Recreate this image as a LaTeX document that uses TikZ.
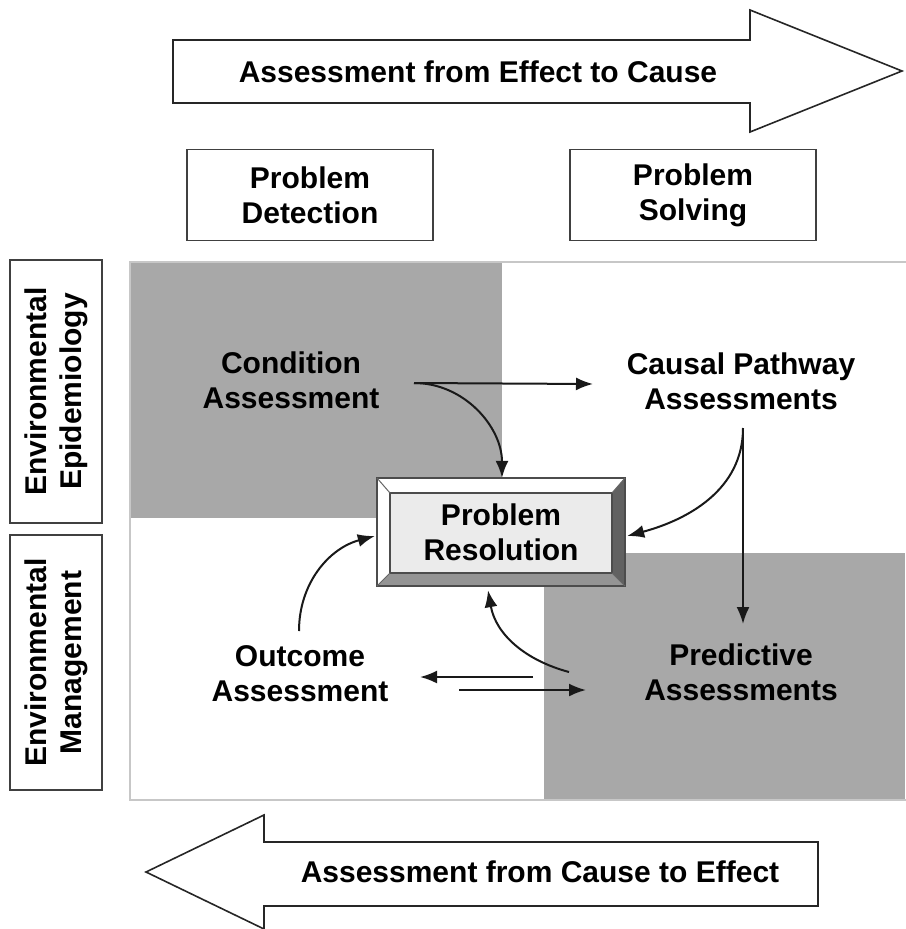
\documentclass[tikz,border=0pt]{standalone}
\usepackage{fontspec}
\setmainfont{Liberation Sans}
\usetikzlibrary{arrows.meta,positioning}

\tikzset{
  lbl/.style={font=\bfseries\fontsize{30}{35}\selectfont, align=center, inner sep=0pt},
  hdrbox/.style={lbl, draw=black!75, line width=1.2pt, minimum width=246pt, minimum height=91pt},
  sidebox/.style={lbl, draw=black!75, line width=1.2pt, rotate=90, minimum height=92pt},
  bigarrow/.style={draw=black!85, line width=1.6pt, fill=white},
  flow/.style={-{Latex[length=17pt,width=13pt]}, line width=2pt, black!90},
}

\begin{document}
\begin{tikzpicture}[x=1pt,y=1pt]
\useasboundingbox (0,0) rectangle (905,-929);
% big block arrows
\draw[bigarrow] (173,-40) -- (750,-40) -- (750,-10) -- (902,-71) -- (750,-132) -- (750,-103) -- (173,-103) -- cycle;
\draw[bigarrow] (818,-842) -- (264,-842) -- (264,-815) -- (146,-872) -- (264,-929) -- (264,-906) -- (818,-906) -- cycle;
\node[lbl] (effcause) at (478,-72) {Assessment from Effect to Cause};
\node[lbl] (causeeff) at (540,-872) {Assessment from Cause to Effect};

\node[hdrbox] (detect) at (310,-195) {Problem\\Detection};
\node[hdrbox] (solving) at (693,-195) {Problem\\Solving};
\node[sidebox, minimum width=263pt] (epid) at (56,-391.5) {Environmental\\Epidemiology};
\node[sidebox, minimum width=255pt] (manage) at (56,-662.5) {Environmental\\Management};

% quadrants
\fill[black!34] (130,-262) rectangle (502,-518);
\fill[black!34] (544,-553) rectangle (905,-800);
\draw[black!22, line width=1.5pt] (130,-262) rectangle (907,-800);

% bevelled centre box
\fill[white] (377,-478) rectangle (625,-586);
\fill[black!62] (625,-478) -- (625,-586) -- (612,-573) -- (612,-493) -- cycle;
\fill[black!42] (377,-586) -- (625,-586) -- (612,-573) -- (390,-573) -- cycle;
\draw[black!70, line width=1.4pt, fill=black!8] (390,-493) rectangle (612,-573);
\draw[black!70, line width=1.4pt] (377,-478) rectangle (625,-586);
\draw[black!60, line width=1pt] (377,-478) -- (390,-493) (625,-478) -- (612,-493)
  (377,-586) -- (390,-573) (625,-586) -- (612,-573);
\node[lbl, minimum width=248pt, minimum height=108pt] (resol) at (501,-532) {Problem\\Resolution};

\node[lbl] (cond) at (291,-380) {Condition\\Assessment};
\node[lbl] (causal) at (741,-381) {Causal Pathway\\Assessments};
\node[lbl] (outcome) at (300,-674) {Outcome\\Assessment};
\node[lbl] (predict) at (741,-672) {Predictive\\Assessments};

\coordinate (condout) at (414,-383);
\coordinate (causalin) at (593,-384);
\coordinate (causalout) at (743,-428);
\coordinate (predictin) at (743,-624);
\coordinate (outcomeout) at (299,-631);
\coordinate (predictout) at (569,-672);
\coordinate (outcomein) at (420,-677);
\coordinate (predictback) at (533,-677);
\coordinate (outcomeright) at (459,-690);
\coordinate (predictleft) at (586,-690);

\draw[flow] (condout) -- (causalin);
\draw[flow] (condout) to[out=0,in=90] ([xshift=1pt]resol.north);
\draw[flow] (causalout) to (predictin);
\draw[flow] (causalout) to[out=-90,in=15] ([xshift=2pt,yshift=-4pt]resol.east);
\draw[flow] (outcomeout) to[out=90,in=195] ([xshift=-2pt,yshift=-4pt]resol.west);
\draw[flow] (predictout) to[out=165,in=-80] ([xshift=-13pt,yshift=-4pt]resol.south);
\draw[flow] (predictback) -- (outcomein);
\draw[flow] (outcomeright) -- (predictleft);
\end{tikzpicture}
\end{document}
